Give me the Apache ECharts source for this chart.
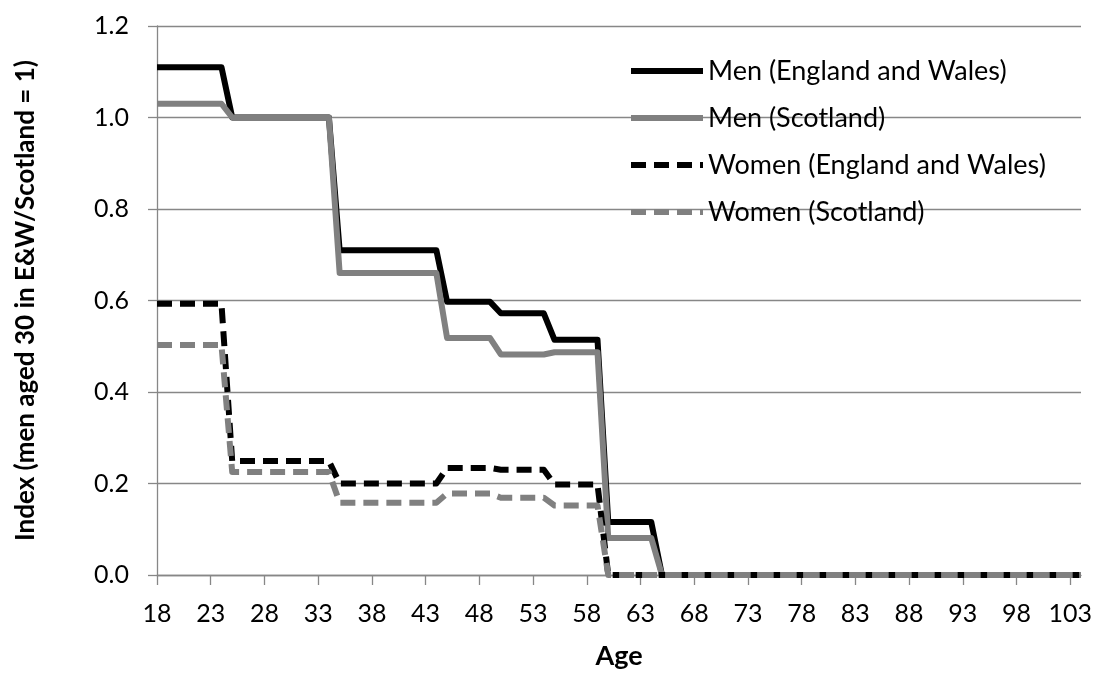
<!DOCTYPE html>
<html>
<head>
<meta charset="utf-8">
<script src="https://cdn.jsdelivr.net/npm/echarts/dist/echarts.min.js"></script>
<style>
html,body{margin:0;padding:0;background:#fff;}
#chart{width:1095px;height:675px;}
</style>
</head>
<body>
<div id="chart"></div>
<script>
var ages = [18,19,20,21,22,23,24,25,26,27,28,29,30,31,32,33,34,35,36,37,38,39,40,41,42,43,44,45,46,47,48,49,50,51,52,53,54,55,56,57,58,59,60,61,62,63,64,65,66,67,68,69,70,71,72,73,74,75,76,77,78,79,80,81,82,83,84,85,86,87,88,89,90,91,92,93,94,95,96,97,98,99,100,101,102,103,104];

var menEW = [1.11,1.11,1.11,1.11,1.11,1.11,1.11,
  1,1,1,1,1,1,1,1,1,1,
  0.71,0.71,0.71,0.71,0.71,0.71,0.71,0.71,0.71,0.71,
  0.597,0.597,0.597,0.597,0.597,
  0.572,0.572,0.572,0.572,0.572,
  0.514,0.514,0.514,0.514,0.514,
  0.116,0.116,0.116,0.116,0.116,
  0,0,0,0,0,0,0,0,0,0,0,0,0,0,0,0,0,0,0,0,0,0,0,0,0,0,0,0,0,0,0,0,0,0,0,0,0,0,0,0];

var menScot = [1.03,1.03,1.03,1.03,1.03,1.03,1.03,
  1,1,1,1,1,1,1,1,1,1,
  0.66,0.66,0.66,0.66,0.66,0.66,0.66,0.66,0.66,0.66,
  0.518,0.518,0.518,0.518,0.518,
  0.482,0.482,0.482,0.482,0.482,
  0.487,0.487,0.487,0.487,0.487,
  0.081,0.081,0.081,0.081,0.081,
  0,0,0,0,0,0,0,0,0,0,0,0,0,0,0,0,0,0,0,0,0,0,0,0,0,0,0,0,0,0,0,0,0,0,0,0,0,0,0,0];

var womenEW = [0.593,0.593,0.593,0.593,0.593,0.593,0.593,
  0.249,0.249,0.249,0.249,0.249,0.249,0.249,0.249,0.249,0.249,
  0.2,0.2,0.2,0.2,0.2,0.2,0.2,0.2,0.2,0.2,
  0.234,0.234,0.234,0.234,0.234,
  0.23,0.23,0.23,0.23,0.23,
  0.198,0.198,0.198,0.198,0.198,
  0,0,0,0,0,0,0,0,0,0,0,0,0,0,0,0,0,0,0,0,0,0,0,0,0,0,0,0,0,0,0,0,0,0,0,0,0,0,0,0,0,0,0,0,0];

var womenScot = [0.503,0.503,0.503,0.503,0.503,0.503,0.503,
  0.225,0.225,0.225,0.225,0.225,0.225,0.225,0.225,0.225,0.225,
  0.158,0.158,0.158,0.158,0.158,0.158,0.158,0.158,0.158,0.158,
  0.178,0.178,0.178,0.178,0.178,
  0.169,0.169,0.169,0.169,0.169,
  0.152,0.152,0.152,0.152,0.152,
  0,0,0,0,0,0,0,0,0,0,0,0,0,0,0,0,0,0,0,0,0,0,0,0,0,0,0,0,0,0,0,0,0,0,0,0,0,0,0,0,0,0,0,0,0];

var seriesNames = ['Men (England and Wales)','Men (Scotland)','Women (England and Wales)','Women (Scotland)'];
var yTicks = [0, 0.2, 0.4, 0.6, 0.8, 1.0, 1.2];

var FONT = 'Lato';
var GRID = '#878787';

function mkSeries(name, data, color, dashed) {
  return {
    name: name,
    type: 'line',
    data: data,
    symbol: 'none',
    showSymbol: false,
    lineStyle: {
      color: color,
      width: 6,
      type: dashed ? [15, 8] : 'solid',
      cap: 'butt',
      join: 'round'
    },
    itemStyle: { color: color },
    emphasis: { disabled: true }
  };
}

var chart = echarts.init(document.getElementById('chart'), null, { renderer: 'canvas' });
chart.setOption({
  animation: false,
  backgroundColor: '#ffffff',
  textStyle: { fontFamily: FONT },
  grid: { left: 157, right: 13, top: 26, bottom: 95, containLabel: false },
  legend: {
    orient: 'vertical',
    left: 623,
    top: 52,
    itemWidth: 72,
    itemHeight: 28,
    itemGap: 19,
    data: seriesNames,
    itemStyle: { opacity: 0, borderWidth: 0 },
    lineStyle: { width: 6 },
    textStyle: { fontFamily: FONT, fontSize: 27, color: '#000', lineHeight: 28 },
    inactiveColor: '#ccc'
  },
  xAxis: {
    type: 'category',
    data: ages,
    boundaryGap: false,
    name: 'Age',
    nameLocation: 'middle',
    nameGap: 68,
    nameTextStyle: { fontFamily: FONT, fontSize: 27, fontWeight: 'bold', color: '#000' },
    axisLine: { show: true, lineStyle: { color: GRID, width: 1.3 } },
    axisTick: { show: true, interval: 4, length: 10, lineStyle: { color: GRID, width: 1.3 } },
    axisLabel: { interval: 4, margin: 26, fontFamily: FONT, fontSize: 25, color: '#000' },
    splitLine: { show: false }
  },
  yAxis: {
    type: 'value',
    min: yTicks[0],
    max: yTicks[yTicks.length - 1],
    interval: 0.2,
    name: 'Index (men aged 30 in E&W/Scotland = 1)',
    nameLocation: 'middle',
    nameRotate: 90,
    nameGap: 118,
    nameTextStyle: { fontFamily: FONT, fontSize: 26, fontWeight: 'bold', color: '#000' },
    axisLine: { show: true, lineStyle: { color: GRID, width: 1.3 } },
    axisTick: { show: true, length: 9, lineStyle: { color: GRID, width: 1.3 } },
    axisLabel: { margin: 28, fontFamily: FONT, fontSize: 25, color: '#000',
      formatter: function (v) { return v.toFixed(1); } },
    splitLine: { show: true, lineStyle: { color: GRID, width: 1.3 } }
  },
  series: [
    mkSeries(seriesNames[0], menEW, '#000000', false),
    mkSeries(seriesNames[1], menScot, '#808080', false),
    mkSeries(seriesNames[2], womenEW, '#000000', true),
    mkSeries(seriesNames[3], womenScot, '#808080', true)
  ]
});
</script>
</body>
</html>
